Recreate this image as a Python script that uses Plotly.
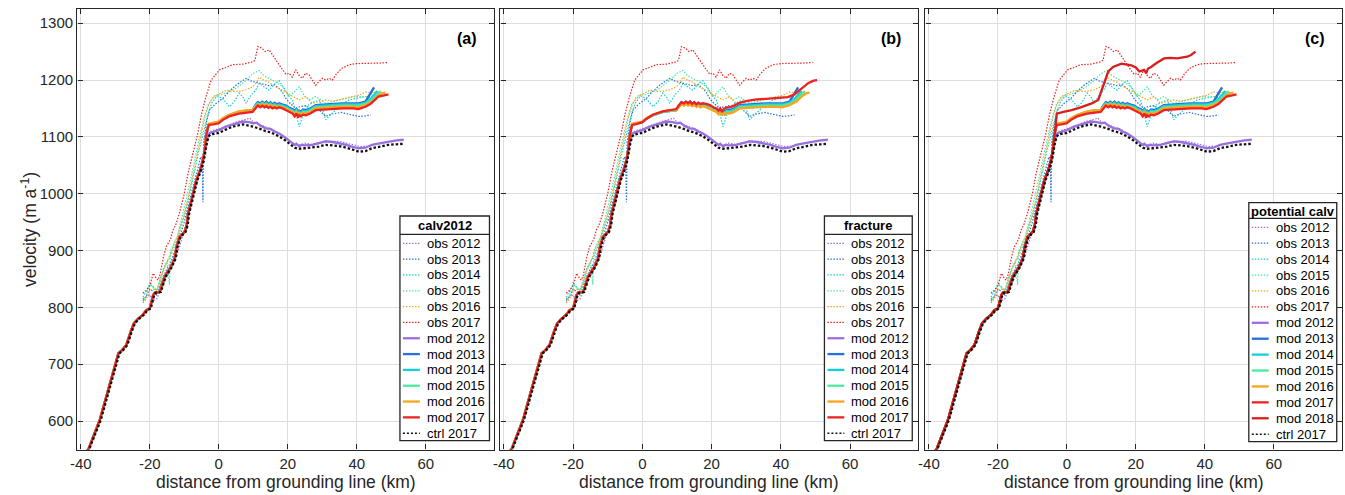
import plotly.graph_objects as go

W, H = 1345, 495

# ---------------- data (velocity in m/a vs distance from grounding line in km) ----------------
grounded_x = [-41, -37.8, -34.5, -31.5, -29.1, -28, -26.8, -25.5, -24.6, -23.4, -22, -21, -20, -19,
              -18.5, -17.1, -16.5, -15.7, -14, -12.8, -12.3, -11.4, -9.9, -9.3, -8.9, -7.5, -6.5, -5.5, -4.6]
grounded_v = [535, 550, 602, 665, 719, 725, 734, 758, 772, 780, 787, 795, 798, 822,
              826, 827, 838, 854, 870, 886, 905, 924, 933, 945, 965, 1000, 1024, 1040, 1059]

obs2012_x = [-22, -21, -20, -19, -18, -17, -16, -15, -14, -13, -12, -11, -10, -9, -8, -7, -6, -5, -4, -3.5, -3, -2,
             0, 2, 4, 6, 8, 9, 10, 12, 14, 16, 18, 20, 21.5, 23, 25, 27, 29, 31, 33, 35, 37, 39, 41, 43]
obs2012_v = [815, 818, 822, 812, 815, 830, 842, 852, 866, 880, 895, 915, 935, 955, 980, 1005, 1035, 1060, 1085, 1098,
             1106, 1111, 1114, 1119, 1124, 1128, 1131, 1133, 1126, 1121, 1116, 1112, 1104, 1096, 1088, 1085, 1089,
             1087, 1090, 1093, 1092, 1092, 1089, 1086, 1083, 1084]

obs2013_x = [-22, -21, -20, -19, -18, -17, -16, -15, -14, -13, -12, -11, -10, -9, -8, -7, -6, -5.2, -4.8, -4.6, -4.4,
             -4, -3.5, -2.7, -1, 1.2, 3, 5, 6.5, 7.9, 9.5, 11.7, 13, 14.6, 16, 17.5, 18.5, 19.4, 20.5, 22.3, 23.5,
             25.2, 26.5, 28.1, 29.5, 31, 32.5, 33.9, 35.5, 36.8, 38.5, 40.6, 42.5, 44]
obs2013_v = [812, 820, 832, 828, 822, 840, 855, 868, 878, 895, 910, 930, 950, 975, 1000, 1025, 1048, 1065, 1060, 985,
             1090, 1110, 1128, 1147, 1158, 1168, 1180, 1191, 1198, 1203, 1198, 1194, 1192, 1190, 1192, 1185, 1178,
             1168, 1160, 1150, 1153, 1155, 1150, 1153, 1145, 1136, 1140, 1141, 1143, 1141, 1139, 1136, 1137, 1139]

obs2014_x = [-22, -21, -20, -19, -18, -17, -16, -15, -14, -13, -12, -11, -10, -9, -8, -7, -6, -5, -4, -3, -2, -0.5,
             1, 3.1, 4.5, 5.9, 7, 7.9, 9.5, 10.7, 11.7, 13, 14.6, 16, 17.5, 19, 20.5, 21.4, 22.5, 23.3, 24.2, 25.2,
             27, 29.1, 30, 31, 32.5, 34.8, 36, 37.7, 40, 42.5, 44, 45]
obs2014_v = [818, 828, 840, 836, 830, 850, 868, 880, 890, 905, 920, 940, 960, 985, 1010, 1040, 1070, 1095, 1120, 1143,
             1160, 1172, 1168, 1153, 1162, 1177, 1170, 1159, 1175, 1182, 1194, 1188, 1182, 1192, 1199, 1185, 1170,
             1165, 1140, 1118, 1135, 1153, 1160, 1165, 1150, 1130, 1140, 1153, 1158, 1165, 1168, 1171, 1169, 1165]

obs2015_x = [-22, -21, -20, -19, -18, -17, -16, -15, -14.3, -14, -13, -12, -11, -10, -9, -8, -7, -6, -5, -4, -3, -2,
             -1, 1, 4, 6, 8, 9.8, 11.7, 13, 15.5, 17, 18.5, 20.4, 22, 23.3, 24.5, 26.2, 28.1, 29.5, 31, 33, 34.8,
             37, 39.6, 41.5, 43.5, 45.4]
obs2015_v = [808, 820, 845, 835, 825, 845, 870, 880, 840, 900, 912, 925, 950, 975, 1000, 1030, 1060, 1090, 1115,
             1140, 1158, 1165, 1172, 1175, 1182, 1190, 1200, 1211, 1217, 1208, 1199, 1195, 1188, 1171, 1180, 1188,
             1175, 1165, 1171, 1165, 1159, 1162, 1165, 1168, 1171, 1170, 1171, 1179]

obs2016_x = [-22, -21, -20, -19, -18, -17, -16, -15, -14, -13, -12, -11, -10, -9, -8, -7, -6, -5, -4, -3, -1.7, 0,
             2.2, 4, 5.9, 8, 9.8, 11, 11.7, 13, 14.6, 16.5, 18.5, 20, 21.4, 22.5, 23.3, 25.2, 27.1, 29, 31, 33,
             34.8, 36.8, 38.7, 40.5, 42.5, 44, 45.4, 47]
obs2016_v = [808, 815, 830, 832, 830, 845, 865, 880, 895, 910, 925, 945, 965, 990, 1020, 1050, 1080, 1110, 1135,
             1155, 1171, 1175, 1182, 1180, 1180, 1183, 1188, 1196, 1205, 1200, 1196, 1188, 1182, 1176, 1171, 1168,
             1165, 1171, 1159, 1162, 1165, 1163, 1165, 1168, 1171, 1173, 1179, 1178, 1179, 1180]

obs2017_x = [-22, -21, -20, -19, -18, -17.6, -17, -16, -15.2, -14, -13.3, -12.5, -11.4, -10, -8.9, -7.5, -6.1, -5,
             -3.7, -2.2, -1, 0.2, 2, 4, 7, 9.8, 10.5, 11.3, 12.5, 13.5, 14.6, 15.5, 16.5, 17.5, 18.5, 19.5, 20.4,
             21.3, 22.3, 23.3, 24.2, 25.2, 26.2, 27.1, 28.1, 29, 30, 31, 32, 32.9, 34, 35.5, 37.7, 40, 42.5, 45,
             47, 49.2]
obs2017_v = [825, 830, 838, 860, 850, 848, 858, 890, 907, 920, 936, 945, 966, 1000, 1036, 1070, 1106, 1140, 1171,
             1200, 1210, 1218, 1222, 1227, 1228, 1232, 1235, 1259, 1256, 1250, 1253, 1245, 1235, 1225, 1218, 1210,
             1212, 1205, 1218, 1208, 1203, 1212, 1209, 1200, 1191, 1197, 1203, 1200, 1203, 1200, 1210, 1220, 1227,
             1229, 1229, 1229, 1230, 1231]

mod2012_x = [-4.0, -3.5, -3.0, -2.5, -1, 0, 2.1, 4, 6.9, 8.8, 10, 11, 12, 13.6, 15, 16, 17.5, 19, 20, 21.4, 22,
             22.5, 23.3, 24, 25, 27.1, 29, 31, 33, 34.8, 37, 38.5, 40.6, 42.5, 44.4, 47, 49.2, 51.5, 53.6]
mod2012_v = [1078, 1095, 1104, 1107, 1110, 1112, 1118, 1122, 1127, 1126, 1124, 1125, 1120, 1115, 1114, 1110, 1106,
             1100, 1095, 1089, 1086, 1088, 1083, 1086, 1085, 1086, 1089, 1092, 1091, 1089, 1086, 1083, 1080, 1081,
             1086, 1089, 1092, 1094, 1095]

mod_up_x = [-4.0, -3.7, -3.2, -2.9, -1.5, 0, 1.2, 3, 5.9, 8, 9.8, 10.5, 11.3, 12, 12.6, 13.2, 13.8, 14.4, 15, 15.6,
            16.2, 16.8, 17.5, 18.5, 19.5, 20.5, 21.4, 22, 22.5, 23, 23.3, 23.8, 24.4, 25.2, 26.5, 28.1, 30, 33,
            35.8, 39, 40.5, 42.5]
mod2013_v = [1080, 1101, 1116, 1122, 1124, 1126, 1132, 1138, 1144, 1146, 1147, 1155, 1161, 1159, 1162, 1159, 1162,
             1158, 1161, 1157, 1160, 1157, 1159, 1157, 1155, 1151, 1149, 1145, 1149, 1143, 1146, 1144, 1148, 1147,
             1150, 1156, 1157, 1158, 1159, 1159, 1159, 1162]
mod2014_v = [1080, 1101, 1116, 1122, 1124, 1126, 1132, 1138, 1144, 1146, 1147, 1154, 1159, 1157, 1160, 1157, 1160,
             1156, 1159, 1155, 1158, 1155, 1157, 1155, 1153, 1149, 1147, 1143, 1147, 1141, 1144, 1142, 1146, 1145,
             1148, 1154, 1155, 1156, 1157, 1157, 1157, 1160]
mod2015_v = [1080, 1101, 1116, 1122, 1124, 1126, 1132, 1138, 1144, 1146, 1147, 1153, 1158, 1156, 1159, 1156, 1158,
             1155, 1157, 1154, 1156, 1153, 1155, 1153, 1151, 1147, 1145, 1141, 1145, 1140, 1142, 1140, 1144, 1143,
             1146, 1152, 1153, 1154, 1155, 1155, 1155, 1158]
mod2016_v = [1080, 1101, 1117, 1123, 1125, 1127, 1133, 1139, 1145, 1147, 1147, 1152, 1157, 1155, 1158, 1155, 1157,
             1154, 1156, 1153, 1155, 1152, 1154, 1152, 1149, 1146, 1144, 1140, 1144, 1138, 1141, 1139, 1142, 1141,
             1144, 1150, 1151, 1152, 1153, 1153, 1152, 1156]
mod2017_v = [1080, 1100, 1115, 1121, 1122, 1124, 1130, 1136, 1141, 1143, 1144, 1149, 1155, 1152, 1155, 1152, 1154,
             1151, 1153, 1150, 1152, 1150, 1152, 1150, 1147, 1143, 1141, 1136, 1141, 1134, 1138, 1136, 1139, 1138,
             1141, 1147, 1148, 1149, 1150, 1150, 1149, 1153]
mod2013_tail_x = [43.2, 44.3, 45]
mod2013_tail_v = [1170, 1180, 1187]
mod2014_tail_x = [44, 45.2, 46]
mod2014_tail_v = [1167, 1175, 1181]
mod2015_tail_x = [44.5, 45.8, 47]
mod2015_tail_v = [1166, 1174, 1180]
mod2016_tail_x = [44.5, 46.2, 47.5, 48.3]
mod2016_tail_v = [1162, 1172, 1177, 1178]
mod2017_tail_x = [44, 46.3, 48, 49.2]
mod2017_tail_v = [1158, 1171, 1173, 1175]

# panel (b): fracture run, mod 2017
fracture2017_x = [-4, -3.7, -3.2, -2.9, -1.5, 0, 1.2, 3, 5.9, 8, 9.8, 10.5, 11.3, 12, 12.6, 13.2, 13.8, 14.4, 15,
                  15.6, 16.2, 16.8, 17.5, 18.5, 19.5, 20.5, 21.4, 22, 22.5, 23, 23.5, 24.4, 25.2, 26.5, 28.1, 30,
                  33, 35.8, 39, 42, 44, 46, 48, 49.5, 50.5]
fracture2017_v = [1080, 1100, 1115, 1121, 1123, 1126, 1132, 1139, 1145, 1147, 1149, 1155, 1161, 1159, 1162, 1159,
                  1162, 1158, 1161, 1157, 1160, 1158, 1159, 1158, 1156, 1152, 1150, 1146, 1150, 1144, 1149, 1152,
                  1152, 1155, 1160, 1163, 1166, 1167, 1168, 1170, 1175, 1185, 1195, 1199, 1200]

# panel (c): potential calving run, mod 2018
potential2018_x = [-4, -3.5, -2.9, -1, 1.4, 4, 7.2, 9.1, 10, 11, 12, 13.4, 15.8, 18.7, 20, 21, 22.4, 23, 23.5, 24.4,
                   26, 28.2, 30, 32, 34.9, 36, 37.3]
potential2018_v = [1080, 1110, 1141, 1144, 1147, 1152, 1159, 1165, 1180, 1200, 1215, 1223, 1229, 1226, 1222, 1215,
                   1218, 1212, 1220, 1223, 1230, 1238, 1239, 1238, 1241, 1244, 1250]

ctrl2017_x = [-41, -37.6, -34.2, -31.2, -28.8, -27.7, -26.5, -25.2, -24.3, -23.1, -21.7, -20.7, -19.7, -18.7, -18.2,
              -16.8, -16.2, -15.4, -13.7, -12.5, -12, -11.1, -9.6, -9, -8.6, -7.2, -6.2, -5.2, -4.3, -3.6, -3.0,
              -2.5, -1, 0, 2.1, 4, 6.9, 8.8, 10, 12, 13.6, 15, 17.5, 19, 20, 21.4, 22, 23.3, 24, 25, 27.1, 29, 31,
              33, 34.8, 37, 38.5, 40.6, 42.5, 44.4, 47, 49.2, 51.5, 53.6]
ctrl2017_v = [530, 550, 602, 665, 719, 725, 734, 758, 772, 780, 787, 795, 798, 822, 826, 827, 838, 854, 870, 886,
              905, 924, 933, 945, 965, 1000, 1024, 1040, 1059, 1085, 1100, 1104, 1106, 1107, 1113, 1118, 1122,
              1120, 1118, 1114, 1110, 1108, 1101, 1095, 1090, 1084, 1081, 1079, 1080, 1080, 1081, 1083, 1086,
              1085, 1084, 1081, 1078, 1074, 1075, 1080, 1083, 1086, 1087, 1088]

x_tickvals = [-40, -20, 0, 20, 40, 60]
x_ticktext = ['-40', '-20', '0', '20', '40', '60']
y_tickvals = [600, 700, 800, 900, 1000, 1100, 1200, 1300]
panel_tags = ['(a)', '(b)', '(c)']
legend_titles = ['calv2012', 'fracture', 'potential calv']

# ---------------- styles ----------------
C = {
    2012: '#9a6fe0',
    2013: '#2470dc',
    2014: '#16cfd6',
    2015: '#4de8a2',
    2016: '#f6a51e',
    2017: '#ee2222',
    2018: '#d81e1e',
}
FONT = 'Liberation Sans, Arial, Helvetica, sans-serif'
TXT = '#262626'
OBS_DASH = '1.5px,1.5px'
CTRL_DASH = '2.5px,2px'

fig = go.Figure()

axes = [('x', 'y'), ('x2', 'y2'), ('x3', 'y3')]


def add(xs, vs, color, width, dash, ax):
    fig.add_trace(go.Scatter(x=xs, y=vs, mode='lines',
                             line=dict(color=color, width=width, dash=dash, shape='linear'),
                             xaxis=ax[0], yaxis=ax[1], showlegend=False, hoverinfo='skip'))


obs_series = [(2012, obs2012_x, obs2012_v), (2013, obs2013_x, obs2013_v), (2014, obs2014_x, obs2014_v),
              (2015, obs2015_x, obs2015_v), (2016, obs2016_x, obs2016_v), (2017, obs2017_x, obs2017_v)]

mod_common = [
    (2013, mod_up_x + mod2013_tail_x, mod2013_v + mod2013_tail_v),
    (2014, mod_up_x + mod2014_tail_x, mod2014_v + mod2014_tail_v),
    (2015, mod_up_x + mod2015_tail_x, mod2015_v + mod2015_tail_v),
    (2016, mod_up_x + mod2016_tail_x, mod2016_v + mod2016_tail_v),
]

for p, ax in enumerate(axes):
    for yr, xs, vs in obs_series:
        add(xs, vs, C[yr], 1.2, OBS_DASH, ax)
    add(grounded_x + mod2012_x, grounded_v + mod2012_v, C[2012], 2.3, 'solid', ax)
    for yr, xs, vs in mod_common:
        add(grounded_x + xs, grounded_v + vs, C[yr], 2.3, 'solid', ax)
    if p == 1:
        add(grounded_x + fracture2017_x, grounded_v + fracture2017_v, C[2017], 2.3, 'solid', ax)
    else:
        add(grounded_x + mod_up_x + mod2017_tail_x, grounded_v + mod2017_v + mod2017_tail_v, C[2017], 2.3, 'solid', ax)
    if p == 2:
        add(grounded_x + potential2018_x, grounded_v + potential2018_v, C[2018], 2.3, 'solid', ax)
    add(ctrl2017_x, ctrl2017_v, '#111111', 2.3, CTRL_DASH, ax)

# ---------------- axes ----------------
panel_px = [(70.7, 489.3), (496.0, 916.0), (923.3, 1341.7)]
top_px, bot_px = 9.0, 449.5
ydom = [1 - bot_px / H, 1 - top_px / H]

common_ax = dict(showline=True, linecolor='#262626', linewidth=1.4, mirror='allticks',
                 ticks='inside', ticklen=5, tickwidth=1, tickcolor='#262626',
                 showgrid=True, gridcolor='#dedede', gridwidth=1, zeroline=False,
                 tickfont=dict(family=FONT, size=15, color=TXT))

layout = dict(width=W, height=H, margin=dict(l=0, r=0, t=0, b=0),
              paper_bgcolor='white', plot_bgcolor='white', showlegend=False)

for i, (l, r) in enumerate(panel_px):
    xs = '' if i == 0 else str(i + 1)
    layout['xaxis' + xs] = dict(common_ax, domain=[l / W, r / W], range=[-41, 79.7],
                                tickvals=x_tickvals, ticktext=x_ticktext,
                                anchor='y' + xs)
    layout['yaxis' + xs] = dict(common_ax, domain=ydom, range=[550, 1325],
                                tickvals=y_tickvals, showticklabels=(i == 0),
                                anchor='x' + xs)

fig.update_layout(**layout)


def fx(px):
    return px / W


def fy(py):
    return 1 - py / H


annotations = []
shapes = []

# axis titles and panel tags
for i, (l, r) in enumerate(panel_px):
    annotations.append(dict(x=fx((l + r) / 2), y=fy(482), xref='paper', yref='paper',
                            text='distance from grounding line (km)', showarrow=False,
                            xanchor='center', yanchor='middle',
                            font=dict(family=FONT, size=17.5, color=TXT)))
    annotations.append(dict(x=fx(r - 15), y=fy(39), xref='paper', yref='paper',
                            text='<b>' + panel_tags[i] + '</b>', showarrow=False,
                            xanchor='right', yanchor='middle',
                            font=dict(family=FONT, size=16, color='#000000')))

annotations.append(dict(x=fx(22), y=fy(229), xref='paper', yref='paper',
                        text='velocity (m a<sup>-1</sup>)', showarrow=False, textangle=-90,
                        xanchor='center', yanchor='middle',
                        font=dict(family=FONT, size=17.5, color=TXT)))

# legends (drawn as boxes, sample lines and text)
base_entries = [('obs 2012', C[2012], 1.2, OBS_DASH), ('obs 2013', C[2013], 1.2, OBS_DASH),
                ('obs 2014', C[2014], 1.2, OBS_DASH), ('obs 2015', C[2015], 1.2, OBS_DASH),
                ('obs 2016', C[2016], 1.2, OBS_DASH), ('obs 2017', C[2017], 1.2, OBS_DASH),
                ('mod 2012', C[2012], 2.3, 'solid'), ('mod 2013', C[2013], 2.3, 'solid'),
                ('mod 2014', C[2014], 2.3, 'solid'), ('mod 2015', C[2015], 2.3, 'solid'),
                ('mod 2016', C[2016], 2.3, 'solid'), ('mod 2017', C[2017], 2.3, 'solid')]
ctrl_entry = ('ctrl 2017', '#111111', 1.6, '2px,2px')

legend_specs = [
    dict(left=395.0, right=485.0, top=216.0, sep=234.3, bottom=440.7,
         entries=base_entries + [ctrl_entry]),
    dict(left=821.7, right=910.0, top=216.0, sep=234.3, bottom=440.7,
         entries=base_entries + [ctrl_entry]),
    dict(left=1248.3, right=1336.7, top=202.7, sep=218.3, bottom=441.7,
         entries=base_entries + [('mod 2018', C[2018], 2.3, 'solid'), ctrl_entry]),
]

for i, spec in enumerate(legend_specs):
    L, R, T, S, B = spec['left'], spec['right'], spec['top'], spec['sep'], spec['bottom']
    shapes.append(dict(type='rect', xref='paper', yref='paper', x0=fx(L), x1=fx(R), y0=fy(B), y1=fy(T),
                       fillcolor='white', line=dict(color='#262626', width=1.3), layer='above'))
    shapes.append(dict(type='line', xref='paper', yref='paper', x0=fx(L), x1=fx(R), y0=fy(S), y1=fy(S),
                       line=dict(color='#262626', width=1.3), layer='above'))
    annotations.append(dict(x=fx((L + R) / 2), y=fy((T + S) / 2 + 0.5), xref='paper', yref='paper',
                            text='<b>' + legend_titles[i] + '</b>', showarrow=False,
                            xanchor='center', yanchor='middle',
                            font=dict(family=FONT, size=13, color='#000000')))
    n = len(spec['entries'])
    first = S + 9.0
    last = B - 7.5
    step = (last - first) / (n - 1)
    for k, (lab, col, wdt, dsh) in enumerate(spec['entries']):
        yc = first + k * step
        shapes.append(dict(type='line', xref='paper', yref='paper', x0=fx(L + 3), x1=fx(L + 20),
                           y0=fy(yc), y1=fy(yc), line=dict(color=col, width=wdt, dash=dsh), layer='above'))
        annotations.append(dict(x=fx(L + 25), y=fy(yc), xref='paper', yref='paper', text=lab,
                                showarrow=False, xanchor='left', yanchor='middle',
                                font=dict(family=FONT, size=13, color='#000000')))

fig.update_layout(annotations=annotations, shapes=shapes)

fig.write_html('out.html')
